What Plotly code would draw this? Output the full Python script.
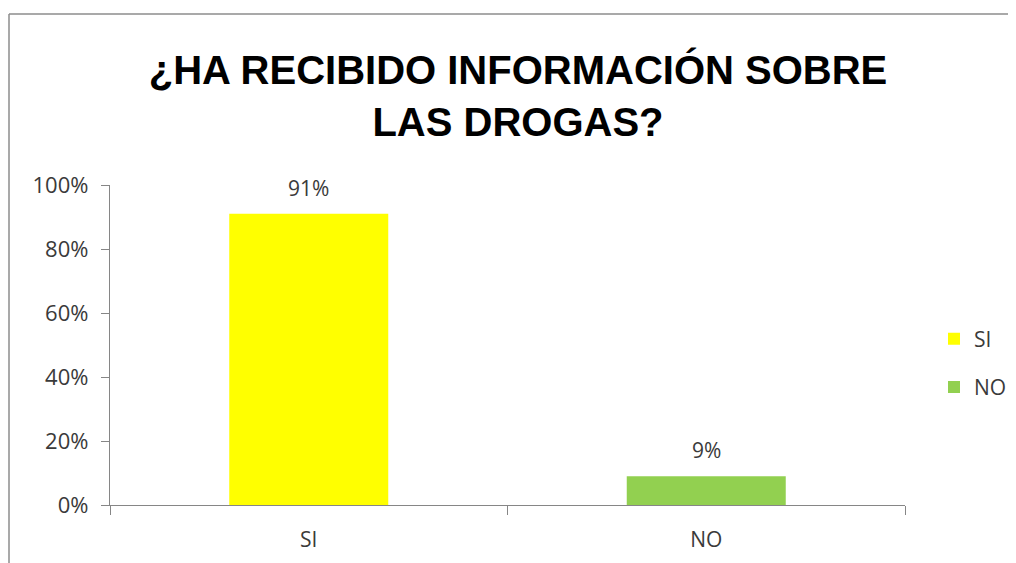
import plotly.graph_objects as go

categories = ["SI", "NO"]
values = [0.91, 0.09]
colors = ["#FFFF00", "#92D050"]
value_labels = ["91%", "9%"]
y_ticks = [0, 0.2, 0.4, 0.6, 0.8, 1.0]
y_tick_labels = ["0%", "20%", "40%", "60%", "80%", "100%"]
title_text = "¿HA RECIBIDO INFORMACIÓN SOBRE<br>LAS DROGAS?"

FONT = "Open Sans, Liberation Sans, Arial, sans-serif"
TXT = "#3a3a3a"
AX = "#868686"

# page body has an 8px default margin: work in screen coords and offset
OFF = 8
W, H = 1016, 563
L, T = 110 - OFF, 185 - OFF
R = W - (905 - OFF)
B = H - (505 - OFF)
pw, ph = W - L - R, H - T - B


def px(x):
    return (x - OFF - L) / pw


def py(y):
    return (H - B - (y - OFF)) / ph


fig = go.Figure()
for i, (c, v, col) in enumerate(zip(categories, values, colors)):
    fig.add_trace(go.Bar(
        x=[c], y=[v], name=c, marker=dict(color=col, line=dict(width=0)),
        width=0.4, legendgroup=f"g{i}", showlegend=True,
    ))

for c, v, lab in zip(categories, values, value_labels):
    fig.add_annotation(x=c, y=v, text=lab, showarrow=False, yanchor="bottom",
                       yshift=10, font=dict(family=FONT, size=21, color=TXT))

# chart container border (top and left visible)
fig.add_shape(type="line", xref="paper", yref="paper", x0=px(9), x1=px(1040),
              y0=py(14), y1=py(14), line=dict(color="#8c8c8c", width=1.5))
fig.add_shape(type="line", xref="paper", yref="paper", x0=px(9), x1=px(9),
              y0=py(14), y1=py(600), line=dict(color="#8c8c8c", width=1.5))

fig.update_layout(
    width=W, height=H,
    margin=dict(l=L, r=R, t=T, b=B),
    paper_bgcolor="white", plot_bgcolor="white",
    barmode="overlay",
    title=dict(text=title_text, x=(518 - OFF) / W, xanchor="center",
               y=1 - 76 / H, yanchor="middle",
               font=dict(family="Liberation Sans Narrow, Arial Narrow, sans-serif", size=40,
                         color="#000000", weight="bold")),
    xaxis=dict(type="category", categoryorder="array", categoryarray=categories,
               showline=True, linecolor=AX, linewidth=1.3, ticks="outside",
               tickson="boundaries", ticklen=9, tickcolor=AX, tickwidth=1.3,
               showgrid=False, ticklabelstandoff=16,
               tickfont=dict(family=FONT, size=21, color=TXT)),
    yaxis=dict(range=[0, 1], tickvals=y_ticks, ticktext=y_tick_labels,
               showline=True, linecolor=AX, linewidth=1.3, ticks="outside",
               ticklen=8, tickcolor=AX, tickwidth=1.3, showgrid=False, zeroline=False,
               ticklabelstandoff=8,
               tickfont=dict(family=FONT, size=22, color=TXT)),
    legend=dict(x=px(934), xanchor="left", y=py(363), yanchor="middle",
                tracegroupgap=18, font=dict(family=FONT, size=21, color=TXT),
                bgcolor="rgba(0,0,0,0)"),
)

fig.write_html("out.html")
